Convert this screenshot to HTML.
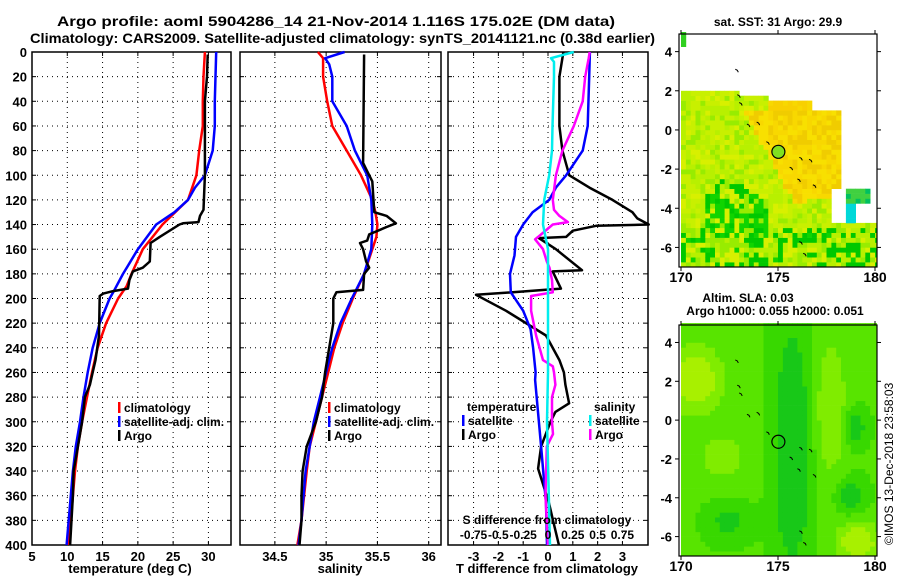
<!DOCTYPE html>
<html><head><meta charset="utf-8"><style>
html,body{margin:0;padding:0;background:#fff;}
svg{display:block;font-family:"Liberation Sans",sans-serif;font-weight:bold;}
</style></head><body>
<svg id="chart" width="900" height="580" viewBox="0 0 900 580" xmlns="http://www.w3.org/2000/svg">
<text x="57" y="26" font-size="14" textLength="558" lengthAdjust="spacingAndGlyphs">Argo profile: aoml 5904286_14 21-Nov-2014 1.116S 175.02E (DM data)</text>
<text x="30" y="43" font-size="14" textLength="625" lengthAdjust="spacingAndGlyphs">Climatology: CARS2009. Satellite-adjusted climatology: synTS_20141121.nc (0.38d earlier)</text>
<text x="778" y="26" font-size="12" text-anchor="middle">sat. SST: 31 Argo: 29.9</text>
<text x="748" y="302" font-size="12" text-anchor="middle">Altim. SLA: 0.03</text>
<text x="775" y="315" font-size="12" text-anchor="middle">Argo h1000: 0.055 h2000: 0.051</text>
<text transform="translate(893,545) rotate(-90)" font-size="12" font-weight="normal">©IMOS 13-Dec-2018 23:58:03</text>
<g id="layer"></g>
</svg>
<script>
// ---- depth axis data ----
const depthTicks = [0,20,40,60,80,100,120,140,160,180,200,220,240,260,280,300,320,340,360,380,400];
// Panel 1: temperature
const tTicks = [5,10,15,20,25,30];
const climTDepth = [0,20,40,60,80,100,120,140,160,180,190,200,220,240,260,280,300,320,340,360,380,400];
const climT = [29.5,29.3,29.2,29.2,28.7,28.3,27.1,23.5,20.7,19.1,18.4,17.2,15.5,14.3,13.5,12.8,12.1,11.5,11.1,10.8,10.5,10.2];
const satTDepth = [0,20,40,60,80,100,110,120,130,140,160,180,195,200,220,240,260,280,300,320,340,360,380,400];
const satT = [31.1,31.0,30.9,30.9,30.6,29.5,28.1,27.1,25.2,22.6,20.0,17.9,16.5,16.0,14.6,13.6,12.9,12.3,11.8,11.2,10.8,10.5,10.2,9.9];
const argoTDepth = [2,20,40,100,128,133,138,139,140,150,155,170,175,178,185,192,194,196,198,230,250,260,270,280,300,320,340,360,380,400];
const argoT = [29.9,29.8,29.5,29.5,29.3,28.8,28.6,26.4,25.9,23.1,21.8,21.7,20.7,19.3,18.8,18.6,16.5,15.1,14.6,14.5,14.0,13.6,13.2,12.5,12.1,11.5,10.9,10.8,10.6,10.4];
// Panel 2: salinity
const sTicks = [34.5,35,35.5,36];
const climSDepth = [0,5,20,40,60,80,100,120,130,140,150,160,180,200,220,240,260,280,300,320,340,380,400];
const climS = [34.92,34.97,34.97,35.01,35.06,35.2,35.34,35.45,35.48,35.5,35.49,35.45,35.37,35.26,35.16,35.08,35.02,34.96,34.9,34.84,34.81,34.76,34.72];
const satSDepth = [0,5,10,20,40,60,80,100,120,140,160,180,200,220,240,260,280,300,320,340,380,400];
const satS = [35.18,34.99,35.03,35.06,35.06,35.2,35.28,35.4,35.44,35.45,35.44,35.37,35.25,35.14,35.06,35.0,34.94,34.88,34.84,34.8,34.76,34.73];
const argoSDepth = [2,90,95,105,130,133,139,142,148,153,155,160,170,175,180,193,195,200,220,240,260,280,300,320,340,360,380,400];
const argoS = [35.37,35.36,35.39,35.45,35.47,35.59,35.68,35.59,35.42,35.4,35.33,35.36,35.39,35.42,35.37,35.36,35.1,35.07,35.07,35.03,34.99,34.96,34.9,34.81,34.77,34.76,34.76,34.74];
// Panel 3: differences
const dTTicks = [-3,-2,-1,0,1,2,3];
const dSTicks = [-0.75,-0.5,-0.25,0,0.25,0.5,0.75];
const dSTickLabels = ["-0.75","-0.5","-0.25","0","0.25","0.5","0.75"];
const argoDTDepth = [0,20,60,80,100,110,120,130,135,140,141,145,150,151,160,177,178,192,195,197,210,230,250,260,270,285,292,300,320,338,366,380,400];
const argoDT = [0.62,0.46,0.46,0.58,0.86,1.67,2.6,3.4,3.6,4.06,1.94,1.0,0.73,-0.37,0.32,1.37,0.19,0.52,-1.42,-2.9,-1.69,-0.08,0.46,0.64,0.7,0.85,0.3,0.1,-0.28,-0.4,0.04,0.2,0.44];
const satDTDepth = [0,20,60,80,100,110,120,130,140,150,165,180,195,210,225,240,260,266,320,338,366,400];
const satDT = [1.69,1.66,1.6,1.4,0.73,0.32,0.05,-0.62,-1.0,-1.29,-1.35,-1.53,-1.5,-1.0,-0.7,-0.6,-0.5,-0.52,-0.28,-0.2,-0.08,-0.04];
const satDSDepth = [0,5,8,20,60,80,100,120,140,160,180,220,260,300,400];
const satDS = [0.26,0.03,0.06,0.06,0.045,0.04,0.012,-0.038,-0.05,0,0,0,0,-0.01,0.02];
const argoDSDepth = [0,5,20,40,60,80,100,120,128,133,138,140,150,152,160,170,175,185,195,198,210,230,250,255,260,270,280,300,310,320,360,400];
const argoDS = [0.42,0.41,0.375,0.35,0.26,0.145,0.08,0.048,0.06,0.115,0.2,0.048,-0.1,-0.13,-0.05,-0.012,0.015,0.04,0.048,-0.17,-0.17,-0.12,-0.05,0.048,0.06,0.075,0.04,0.04,0.05,-0.012,-0.025,0];

const NS='http://www.w3.org/2000/svg';
const layer=document.getElementById('layer');
function el(tag,attrs,parent){const e=document.createElementNS(NS,tag);for(const k in attrs)e.setAttribute(k,attrs[k]);(parent||layer).appendChild(e);return e;}
function txt(x,y,s,size,anchor,parent){const t=el('text',{x:x,y:y,'font-size':size,'text-anchor':anchor||'middle'},parent);t.textContent=s;return t;}

const top0=52, bot0=545;
const yD=d=>top0+(d/400)*(bot0-top0);
const panels=[
 {name:'temperature',x0:32,x1:231,min:5,max:33.2},
 {name:'salinity',x0:240,x1:441,min:34.16,max:36.12},
 {name:'difference',x0:448,x1:648,min:-4.03,max:4.03}
];
function axisFn(p){return v=>p.x0+(v-p.min)/(p.max-p.min)*(p.x1-p.x0);}
const xT=axisFn(panels[0]), xS=axisFn(panels[1]), xDT=axisFn(panels[2]);
const xDS=v=>xDT(v*4);

function drawPanel(p,xf,ticks,tickLabels,pname){
  const g=el('g',{});
  
  
  depthTicks.forEach(d=>{ if(d>0&&d<400){const l=el('line',{x1:p.x0,x2:p.x1,y1:yD(d),y2:yD(d),stroke:'#000','stroke-width':1,'stroke-dasharray':'1,4'},g);
    }
    el('line',{x1:p.x0,x2:p.x0+4,y1:yD(d),y2:yD(d),stroke:'#000'},g);
    el('line',{x1:p.x1-4,x2:p.x1,y1:yD(d),y2:yD(d),stroke:'#000'},g);
  });
  ticks.forEach((v,i)=>{const x=xf(v);
    if(x>p.x0+1&&x<p.x1-1){const l=el('line',{x1:x,x2:x,y1:top0,y2:bot0,stroke:'#000','stroke-width':1,'stroke-dasharray':'1,4'},g);
    }
    el('line',{x1:x,x2:x,y1:bot0,y2:bot0-4,stroke:'#000'},g);
    el('line',{x1:x,x2:x,y1:top0,y2:top0+4,stroke:'#000'},g);
    const t=txt(x,bot0+16,tickLabels[i],13,'middle',g);
    
  });
  const r=el('rect',{x:p.x0,y:top0,width:p.x1-p.x0,height:bot0-top0,fill:'none',stroke:'#000','stroke-width':1.5},g);
  
  return g;
}
function line(g,xf,depths,vals,color,name){
  const pts=depths.map((d,i)=>xf(vals[i]).toFixed(1)+','+yD(d).toFixed(1)).join(' ');
  const pl=el('polyline',{points:pts,fill:'none',stroke:color,'stroke-width':2.5,'stroke-linejoin':'round'},g);
  
  
}
const g1=drawPanel(panels[0],xT,tTicks,tTicks.map(String),'temperature');
depthTicks.forEach(d=>{const t=txt(27,yD(d)+5,String(d),13,'end',g1);
  });
line(g1,xT,climTDepth,climT,'#f00','climatology-temperature-line');
line(g1,xT,satTDepth,satT,'#00f','satellite-temperature-line');
line(g1,xT,argoTDepth,argoT,'#000','argo-temperature-line');
const xl1=txt(130,573,'temperature (deg C)',13,'middle',g1);

const g2=drawPanel(panels[1],xS,sTicks,['34.5','35','35.5','36'],'salinity');
line(g2,xS,climSDepth,climS,'#f00','climatology-salinity-line');
line(g2,xS,satSDepth,satS,'#00f','satellite-salinity-line');
line(g2,xS,argoSDepth,argoS,'#000','argo-salinity-line');
const xl2=txt(340,573,'salinity',13,'middle',g2);

const g3=drawPanel(panels[2],xDT,dTTicks,dTTicks.map(String),'difference');
line(g3,xDT,argoDTDepth,argoDT,'#000','argo-temperature-difference-line');
line(g3,xDT,satDTDepth,satDT,'#00f','satellite-temperature-difference-line');
line(g3,xDS,argoDSDepth,argoDS,'#f0f','argo-salinity-difference-line');
line(g3,xDS,satDSDepth,satDS,'#0ee','satellite-salinity-difference-line');
const xl3=txt(547,573,'T difference from climatology',13,'middle',g3);

const sl=txt(547,524,'S difference from climatology',12,'middle',g3);

dSTicks.forEach((v,i)=>{const t=txt(xDS(v),539,dSTickLabels[i],12,'middle',g3);
  });

function legendEntry(g,x,y,color,label){
  const gg=el('g',{},g);
  
  
  el('rect',{x:x,y:y-10,width:2.5,height:11,fill:color},gg);
  txt(x+6,y,label,12,'start',gg);
}
legendEntry(g1,118,412,'#f00','climatology');
legendEntry(g1,118,426,'#00f','satellite-adj. clim.');
legendEntry(g1,118,440,'#000','Argo');
legendEntry(g2,328,412,'#f00','climatology');
legendEntry(g2,328,426,'#00f','satellite-adj. clim.');
legendEntry(g2,328,440,'#000','Argo');
const lt=txt(467,411,'temperature',12,'start',g3);
const ls=txt(594,411,'salinity',12,'start',g3);
legendEntry(g3,462,425,'#00f','satellite');
legendEntry(g3,462,439,'#000','Argo');
legendEntry(g3,589,425,'#0ee','satellite');
legendEntry(g3,589,439,'#f0f','Argo');

// ---- maps ----
const lonTicks=[170,175,180];
const latTicks=[4,2,0,-2,-4,-6];
function hash(i,j,s){let h=(i*374761393+j*668265263+s*1442695041)|0;h=(h^(h>>>13))*1274126177|0;return ((h^(h>>>16))>>>0)/4294967296;}
function gs(lon,lat,cx,cy,sx,sy){const a=(lon-cx)/sx,b=(lat-cy)/sy;return Math.exp(-(a*a+b*b));}
function drawMap(mx0,mx1,my0,my1,which){
  const g=el('g',{});
  
  
  const lonX=l=>mx0+2+(l-170)/10*(mx1-mx0-4);
  const latY=a=>my0+(4.9-a)/11.9*(my1-my0);
  const cs=0.25;
  for(let lon=170;lon<180.15;lon+=cs){for(let lat=-7;lat<4.9;lat+=cs){
    const i=Math.round(lon*4),j=Math.round(lat*4),r=hash(i,j,which==='sst'?1:2);
    let c=null;
    if(which==='sst'){
      if(lon<170.2&&lat>4.1){c='#30d020';}
      else if(lat>1.9) continue;
      else if(lat>0.9&&lon>174.3) {if(lon<176.7&&lat<1.4)c=r<.5?'#f8d800':'#f8d000';else continue;}
      else if(lat>1.3&&lon>172.8&&lon<174.3){c=r<.5?'#c8f000':'#a8f000'; if(lat>1.7) continue;}
      else if(lon>178.2&&lat>-3.2) continue;
      else if(lon>177.7&&lat>-4.8&&lat<-3.2){ if(lon>178.3&&lat>-3.8&&lon<179.6){c=r<.5?'#00c060':'#40d040';} else if(lon>178.3&&lat<-3.8&&lon<179){c='#00d8d8';} else continue;}
      else {
        const leftEdge = 173.3 + (0.5-lat)*0.55;
        const orange = lat<1.0 && lon>leftEdge && lat > -3.8 + (lon-176)*0.1;
        const green = (lat<-3.3 && lat>-5.6 && lon>171.2 && lon<174.5 && r<0.6) || (lat<-5 && r<0.35) || (lat<-2.5&&lat>-3.5&&lon>171.5&&lon<173.5&&r<0.35);
        if(orange) c = r<0.33?'#f8d800':(r<0.66?'#f0cc00':'#f8e000');
        else if(green) c = r<0.3?'#00c800':(r<0.6?'#10d400':'#60e000');
        else c = r<0.3?'#c8f000':(r<0.6?'#b8f000':(r<0.8?'#98ec00':'#d8f000'));
      }
    } else {
      const v = 0.3 + 0.8*gs(lon,lat,170.6,2,1.3,1.6) + 0.8*gs(lon,lat,179,-6.4,1,1)
        + 0.45*gs(lon,lat,177.6,0.5,0.8,3.5) + 0.3*gs(lon,lat,172,-2,1.5,1.5)
        - 0.6*gs(lon,lat,175.6,-1.5,0.9,6) - 0.45*gs(lon,lat,178.8,-0.5,0.6,0.9)
        - 0.45*gs(lon,lat,178.6,-4,0.7,0.9) - 0.35*gs(lon,lat,172.3,-5.3,1,1) - 0.3*gs(lon,lat,175.6,-4.5,0.6,1);
      c = v>0.75?'#a8f000':(v>0.5?'#80ec00':(v>0.28?'#58e400':(v>0.05?'#38d800':'#18c818')));
    }
    if(!c) continue;
    el('rect',{x:lonX(lon).toFixed(1),y:latY(lat+cs).toFixed(1),width:5.2,height:5.2,fill:c},g);
  }}
  el('rect',{x:mx1,y:my0-10,width:6,height:my1-my0+20,fill:'#fff'},g);
  el('rect',{x:mx0,y:my1,width:mx1-mx0,height:8,fill:'#fff'},g);
  [[172.8,3.1],[172.9,1.8],[173.0,1.4],[173.4,0.3],[173.9,0.4],[174.4,-0.6],[176.1,-1.4],[176.6,-1.5],[175.6,-1.9],[176.0,-2.5],[176.8,-2.8],[176.1,-5.7],[176.3,-6.3]].forEach(p=>{
    el('path',{d:`M${lonX(p[0])} ${latY(p[1])} l2 1 l1 2`,stroke:'#000','stroke-width':1,fill:'none'},g);});
  const mk=el('circle',{cx:lonX(175.02),cy:latY(-1.116),r:6.5,fill:which==='sst'?'#80e020':'none',stroke:'#000','stroke-width':1.2},g);
  
  const fr=el('rect',{x:mx0,y:my0,width:mx1-mx0,height:my1-my0,fill:'none',stroke:'#000','stroke-width':1.2},g);
  
  lonTicks.forEach(l=>{const x=lonX(l);el('line',{x1:x,x2:x,y1:my1,y2:my1+4,stroke:'#000'},g);el('line',{x1:x,x2:x,y1:my0,y2:my0-4,stroke:'#000'},g);
    const t=txt(x,my1+15,String(l),14,'middle',g);});
  latTicks.forEach(a=>{const y=latY(a);el('line',{x1:mx0-4,x2:mx0,y1:y,y2:y,stroke:'#000'},g);el('line',{x1:mx1,x2:mx1+4,y1:y,y2:y,stroke:'#000'},g);
    const t=txt(mx0-7,y+5,String(a),13,'end',g);});
}
drawMap(679,877,34,267,'sst');
drawMap(679,877,325,556,'sla');
</script>
</body></html>
